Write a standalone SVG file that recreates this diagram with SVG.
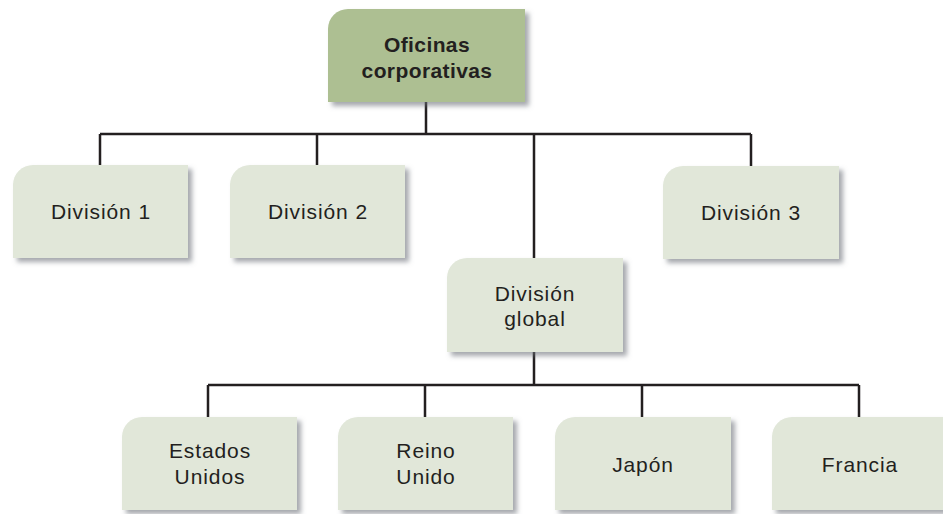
<svg xmlns="http://www.w3.org/2000/svg" width="943" height="514" viewBox="0 0 943 514">
<defs>
<filter id="sh" x="-10%" y="-10%" width="130%" height="130%">
<feDropShadow dx="4" dy="4" stdDeviation="2.5" flood-color="#6a6e76" flood-opacity="0.6"/>
</filter>
<style>
.box{fill:#e1e7d9;filter:url(#sh)}
.top{fill:#adbf92;filter:url(#sh)}
.t{font-family:"Liberation Sans",Arial,sans-serif;font-size:21px;letter-spacing:0.9px;fill:#231f20;text-anchor:middle}
.b{font-family:"Liberation Sans",Arial,sans-serif;font-size:21px;font-weight:bold;letter-spacing:0.4px;fill:#231f20;text-anchor:middle}
.c{fill:none;stroke:#231f20;stroke-width:2.5}
</style>
</defs>
<rect width="943" height="514" fill="#ffffff"/>
<g id="connectors">
<path class="c" d="M426,102 V134 M100,134 H751 M100,134 V165 M317,134 V165 M534,134 V258 M751,134 V166"/>
<path class="c" d="M534,352 V385 M208,385 H859 M208,385 V417 M425,385 V417 M642,385 V417 M859,385 V417"/>
</g>
<g id="oficinas">
<path class="top" d="M328,29 A20,20 0 0 1 348,9 H525 V102 H328 Z"/>
<text class="b" x="427" y="52">Oficinas</text>
<text class="b" x="427" y="78">corporativas</text>
</g>
<g id="division1">
<path class="box" d="M13,185 A20,20 0 0 1 33,165 H188 V258 H13 Z"/>
<text class="t" x="101" y="219">División 1</text>
</g>
<g id="division2">
<path class="box" d="M230,185 A20,20 0 0 1 250,165 H405 V258 H230 Z"/>
<text class="t" x="318" y="219">División 2</text>
</g>
<g id="division3">
<path class="box" d="M663,186 A20,20 0 0 1 683,166 H839 V259 H663 Z"/>
<text class="t" x="751" y="220">División 3</text>
</g>
<g id="global">
<path class="box" d="M447,278 A20,20 0 0 1 467,258 H623 V352 H447 Z"/>
<text class="t" x="535" y="301">División</text>
<text class="t" x="535" y="326">global</text>
</g>
<g id="estados">
<path class="box" d="M122,437 A20,20 0 0 1 142,417 H297 V510 H122 Z"/>
<text class="t" x="210" y="458">Estados</text>
<text class="t" x="210" y="484">Unidos</text>
</g>
<g id="reino">
<path class="box" d="M338,437 A20,20 0 0 1 358,417 H513 V510 H338 Z"/>
<text class="t" x="426" y="458">Reino</text>
<text class="t" x="426" y="484">Unido</text>
</g>
<g id="japon">
<path class="box" d="M555,437 A20,20 0 0 1 575,417 H731 V510 H555 Z"/>
<text class="t" x="643" y="472">Japón</text>
</g>
<g id="francia">
<path class="box" d="M772,437 A20,20 0 0 1 792,417 H947 V510 H772 Z"/>
<text class="t" x="860" y="472">Francia</text>
</g>
</svg>
